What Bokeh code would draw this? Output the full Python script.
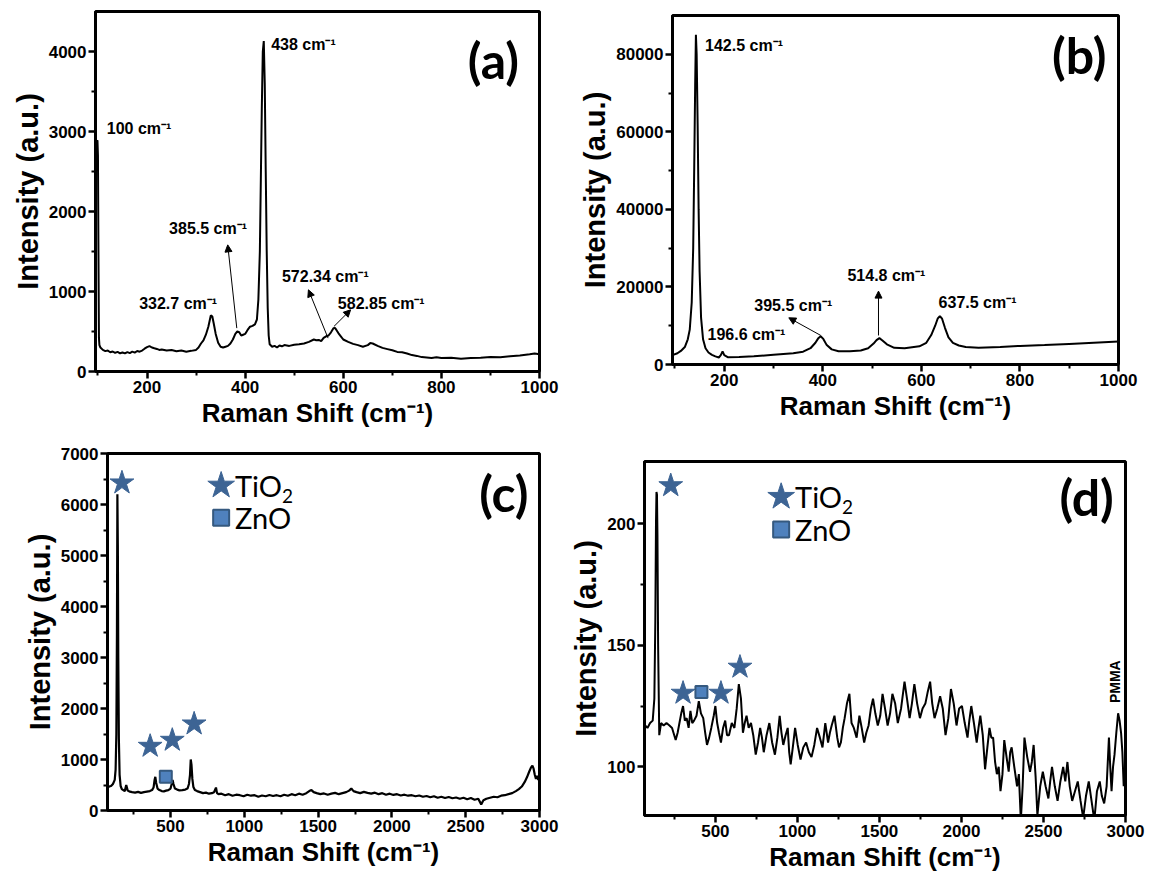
from math import pi
from bokeh.plotting import figure
from bokeh.models import Range1d, FixedTicker, Label, Arrow, NormalHead
from bokeh.layouts import row, column
from bokeh.embed import file_html
from bokeh.resources import INLINE

# ---------------- data: panel (a) ----------------
xa = [
    98, 99, 100, 101, 102, 103, 105, 110, 115, 120,
    125, 130, 135, 140, 145, 150, 155, 160, 165, 170,
    175, 180, 185, 190, 195, 200, 205, 210, 215, 220,
    225, 230, 240, 250, 260, 270, 280, 290, 300, 305,
    310, 315, 320, 325, 330, 333, 336, 340, 345, 350,
    355, 360, 365, 370, 375, 380, 384, 388, 392, 396,
    400, 405, 410, 415, 420, 424, 427, 430, 432, 434,
    436, 438, 440, 442, 444, 446, 448, 450, 455, 460,
    465, 470, 475, 480, 490, 500, 510, 520, 530, 540,
    545, 550, 555, 560, 565, 570, 575, 580, 583, 586,
    590, 595, 600, 610, 620, 630, 640, 650, 655, 660,
    670, 680, 690, 700, 710, 720, 730, 740, 750, 760,
    770, 780, 790, 800, 820, 840, 860, 880, 900, 920,
    940, 960, 980, 990, 1000]
ya = [
    2880, 2890, 2700, 1500, 420, 330, 300, 270, 255, 262,
    240, 250, 232, 245, 228, 238, 226, 242, 230, 248,
    236, 256, 248, 262, 285, 305, 318, 300, 290, 282,
    270, 276, 262, 268, 252, 262, 248, 258, 270, 300,
    350, 390, 460, 560, 700, 690, 600, 470, 360, 310,
    300, 310, 320, 350, 400, 470, 500, 490, 450, 460,
    470, 520, 560, 570, 590, 650, 900, 1500, 2400, 3300,
    4000, 4130, 3600, 2500, 1500, 800, 450, 340, 310, 320,
    300, 325, 315, 330, 320, 335, 340, 350, 370, 400,
    390, 395, 380, 420, 440, 450, 490, 540, 545, 520,
    480, 440, 400, 370, 345, 330, 310, 330, 355, 350,
    320, 295, 280, 265, 245, 240, 225, 205, 195, 180,
    175, 170, 178, 168, 172, 160, 168, 172, 180, 178,
    190, 200, 215, 225, 215]

ann_a_text = ["100 cm\u207b\u00b9", "438 cm\u207b\u00b9", "385.5 cm\u207b\u00b9",
              "332.7 cm\u207b\u00b9", "572.34 cm\u207b\u00b9", "582.85 cm\u207b\u00b9"]
ann_a_x = [118, 453, 245, 184, 475, 589]
ann_a_y = [3042, 4083, 1792, 854, 1187, 854]
arr_a_x0 = [383, 569, 581]
arr_a_y0 = [542, 417, 563]
arr_a_x1 = [364.5, 529, 615]
arr_a_y1 = [1583, 1021, 771]

# ---------------- data: panel (b) ----------------
xb = [
    95, 105, 112, 120, 126, 130, 134, 137, 139, 141,
    142.5, 144, 146, 148, 150, 153, 157, 162, 168, 175,
    182, 189, 193, 196.6, 200, 207, 230, 260, 300, 340,
    360, 375, 385, 391, 395.5, 401, 408, 418, 432, 455,
    477, 492, 503, 509, 514.8, 521, 530, 545, 566, 596,
    610, 620, 628, 633, 637.5, 642, 648, 655, 664, 676,
    690, 716, 760, 800, 850, 900, 950, 1000]
yb = [
    2400, 2900, 3500, 4500, 6500, 9000, 16000, 30000, 50000, 72000,
    85000, 80000, 62000, 40000, 24000, 12000, 6500, 4200, 3100, 2500,
    2100, 1800, 2400, 3400, 2400, 1900, 1950, 2100, 2500, 2900,
    3300, 4200, 5600, 6800, 7300, 6600, 5000, 3900, 3400, 3400,
    3600, 4200, 5400, 6300, 6800, 6200, 5200, 4300, 4200, 4700,
    5600, 7600, 10000, 11800, 12500, 11800, 9400, 7000, 5600, 4900,
    4500, 4300, 4500, 4800, 5000, 5300, 5600, 5900]

ann_b_text = ["142.5 cm\u207b\u00b9", "196.6 cm\u207b\u00b9", "395.5 cm\u207b\u00b9",
              "514.8 cm\u207b\u00b9", "637.5 cm\u207b\u00b9"]
ann_b_x = [161, 166, 261, 450, 635]
ann_b_y = [82323, 7742, 15312, 23054, 15914]
arr_b_x0 = [396, 513]
arr_b_y0 = [7484, 7484]
arr_b_x1 = [331, 513]
arr_b_y1 = [12043, 18925]

# ---------------- data: panel (c) ----------------
xc = [
    73, 85, 97, 110, 122, 128, 133, 137, 140, 143,
    146, 150, 155, 162, 170, 180, 190, 200, 210, 225,
    240, 260, 280, 300, 320, 340, 360, 375, 385, 392,
    397, 403, 412, 425, 440, 455, 470, 485, 500, 508,
    514, 520, 530, 545, 560, 580, 600, 615, 625, 632,
    637, 642, 648, 655, 665, 680, 700, 720, 740, 760,
    780, 795, 808, 815, 825, 845, 870, 895, 920, 945,
    970, 995, 1020, 1045, 1070, 1095, 1120, 1145, 1170, 1195,
    1220, 1245, 1270, 1295, 1320, 1345, 1370, 1395, 1420, 1440,
    1455, 1470, 1490, 1515, 1540, 1565, 1590, 1615, 1640, 1665,
    1690, 1710, 1725, 1740, 1760, 1785, 1810, 1835, 1860, 1885,
    1910, 1935, 1960, 1985, 2010, 2035, 2060, 2085, 2110, 2135,
    2160, 2185, 2210, 2235, 2260, 2285, 2310, 2335, 2360, 2385,
    2410, 2435, 2460, 2485, 2510, 2535, 2560, 2585, 2605, 2620,
    2640, 2665, 2690, 2715, 2740, 2765, 2790, 2815, 2840, 2860,
    2880, 2900, 2915, 2930, 2942, 2952, 2960, 2968, 2976, 2984,
    2992, 3000]
yc = [
    450, 470, 480, 520, 600, 800, 1500, 3500, 6200, 5200,
    3000, 1400, 700, 480, 420, 400, 380, 500, 390, 370,
    360, 350, 365, 345, 360, 370, 380, 400, 450, 600,
    660, 540, 430, 400, 380, 375, 390, 400, 430, 520,
    600, 520, 430, 410, 395, 400, 410, 430, 520, 700,
    1000, 900, 620, 460, 400, 380, 360, 340, 350, 330,
    340, 360, 450, 340, 320, 330, 300, 320, 290, 310,
    300, 280, 310, 290, 300, 270, 295, 280, 305, 285,
    300, 280, 310, 290, 320, 300, 330, 310, 340, 380,
    400, 360, 340, 320, 335, 310, 330, 345, 320, 340,
    360, 390, 430, 380, 360, 340, 365, 345, 330, 350,
    320, 340, 310, 330, 305, 320, 295, 310, 290, 300,
    280, 295, 270, 285, 260, 280, 250, 270, 245, 265,
    240, 255, 230, 250, 220, 245, 210, 230, 120, 200,
    230, 250, 270, 260, 290, 300, 320, 340, 380, 420,
    470, 560, 650, 760, 840, 880, 820, 700, 620, 680,
    600, 700]

star_c_x = [171, 362, 512, 660]
star_c_y = [6425, 1261, 1379, 1699]
zno_c_x = [468]
zno_c_y = [660]

# ---------------- data: panel (d) ----------------
xd = [
    72, 86, 102, 118, 128, 134, 138, 141, 144, 147,
    151, 158, 169, 185, 202, 220, 236, 258, 270, 281,
    292, 303, 314, 325, 337, 348, 359, 370, 385, 399,
    412, 426, 438, 449, 462, 475, 490, 500, 511, 522,
    534, 547, 560, 571, 583, 600, 616, 630, 643, 656,
    668, 679, 690, 703, 717, 731, 746, 760, 773, 784,
    795, 812, 829, 846, 863, 878, 892, 903, 914, 928,
    941, 950, 959, 972, 986, 1002, 1019, 1036, 1053, 1070,
    1086, 1103, 1120, 1137, 1153, 1170, 1187, 1198, 1209, 1226,
    1243, 1254, 1265, 1277, 1288, 1302, 1317, 1330, 1344, 1361,
    1378, 1392, 1407, 1420, 1434, 1448, 1461, 1475, 1490, 1505,
    1519, 1534, 1550, 1565, 1579, 1596, 1612, 1632, 1653, 1668,
    1684, 1698, 1713, 1730, 1747, 1763, 1780, 1795, 1809, 1822,
    1836, 1853, 1870, 1886, 1903, 1920, 1936, 1953, 1970, 1986,
    2003, 2020, 2037, 2048, 2060, 2076, 2093, 2104, 2115, 2130,
    2144, 2158, 2171, 2182, 2193, 2205, 2216, 2227, 2238, 2250,
    2261, 2275, 2288, 2297, 2306, 2322, 2339, 2350, 2362, 2373,
    2384, 2401, 2418, 2429, 2440, 2452, 2463, 2480, 2496, 2513,
    2530, 2541, 2552, 2569, 2586, 2603, 2620, 2633, 2646, 2660,
    2675, 2692, 2709, 2726, 2742, 2759, 2776, 2793, 2810, 2826,
    2843, 2856, 2870, 2885, 2899, 2907, 2915, 2924, 2933, 2944,
    2955, 2964, 2973, 2981, 2989, 2995, 3000]
yd = [
    117, 116, 118, 119, 128, 160, 200, 213, 212, 195,
    150, 113, 118, 117, 118, 117, 116, 111, 114, 118,
    122, 125, 119, 120, 116, 123, 118, 119, 121, 127,
    122, 120, 114, 109, 112, 116, 121, 125, 118, 114,
    110, 116, 119, 113, 113, 118, 116, 124, 134, 128,
    114, 118, 121, 116, 118, 113, 105, 110, 116, 112,
    106, 113, 118, 110, 105, 112, 121, 114, 109, 113,
    116, 106, 101, 108, 116, 109, 103, 108, 110, 106,
    104, 109, 116, 112, 108, 118, 110, 114, 117, 121,
    112, 108, 110, 116, 120, 126, 130, 118, 116, 112,
    121, 116, 110, 114, 117, 124, 128, 122, 117, 121,
    130, 124, 117, 122, 130, 126, 118, 124, 135, 128,
    120, 126, 134, 126, 120, 124, 126, 131, 135, 126,
    120, 124, 129, 124, 113, 120, 132, 126, 117, 124,
    125, 118, 112, 119, 125, 118, 110, 116, 121, 113,
    99, 108, 116, 112, 112, 102, 97, 100, 90, 97,
    111, 104, 98, 106, 108, 100, 92, 97, 78, 92,
    112, 104, 98, 102, 109, 96, 80, 92, 98, 92,
    87, 94, 100, 92, 86, 94, 100, 94, 102, 92,
    86, 90, 94, 86, 79, 88, 94, 86, 78, 90,
    94, 88, 85, 92, 112, 100, 90, 100, 105, 114,
    122, 119, 114, 106, 92, 99, 97]

star_d_x = [228, 303, 534, 650]
star_d_y = [215.6, 130.3, 130.3, 141]
zno_d_x = [415]
zno_d_y = [130.8]

# ---------------- style ----------------
STAR = "#3d6494"
SQ_FILL = "#4f81bd"
SQ_LINE = "#35597f"
XLABEL = "Raman Shift (cm\u207b\u00b9)"
YLABEL = "Intensity (a.u.)"


def panel(w, h, bl, br, bt, bb, xr, yr, xmaj, xmin, ymaj, ymin):
    p = figure(width=w, height=h, x_range=Range1d(*xr), y_range=Range1d(*yr),
               output_backend="svg", toolbar_location=None,
               min_border_left=bl, min_border_right=br,
               min_border_top=bt, min_border_bottom=bb,
               background_fill_color="white", border_fill_color="white")
    p.xgrid.visible = False
    p.ygrid.visible = False
    p.outline_line_color = "black"
    p.outline_line_width = 3
    p.outline_line_alpha = 1
    p.xaxis.ticker = FixedTicker(ticks=xmaj, minor_ticks=xmin)
    p.yaxis.ticker = FixedTicker(ticks=ymaj, minor_ticks=ymin)
    for ax in (p.xaxis[0], p.yaxis[0]):
        ax.axis_line_width = 3
        ax.axis_line_color = "black"
        ax.major_tick_line_width = 2.5
        ax.minor_tick_line_width = 2
        ax.major_tick_out = 7
        ax.major_tick_in = 0
        ax.minor_tick_out = 4
        ax.minor_tick_in = 0
        ax.major_label_text_font = "Liberation Sans"
        ax.major_label_text_font_style = "bold"
        ax.major_label_text_font_size = "17px"
        ax.major_label_text_color = "black"
        ax.major_label_standoff = 2
        ax.axis_label_text_font = "Liberation Sans"
        ax.axis_label_text_font_style = "bold"
        ax.axis_label_text_color = "black"
        ax.axis_label_standoff = 2
    p.xaxis.axis_label_text_font_size = "26px"
    p.yaxis.axis_label_text_font_size = "29px"
    p.xaxis.axis_label = XLABEL
    p.yaxis.axis_label = YLABEL
    return p


def ann(p, xs, ys, texts, size="16px"):
    for x, y, t in zip(xs, ys, texts):
        p.add_layout(Label(x=x, y=y, text=t, text_font="Liberation Sans",
                           text_font_style="bold", text_font_size=size,
                           text_color="black", text_baseline="middle",
                           text_align="left"))


def arrows(p, x0, y0, x1, y1):
    for a, b, c, d in zip(x0, y0, x1, y1):
        p.add_layout(Arrow(end=NormalHead(size=7, fill_color="black", line_color="black",
                                          line_width=1),
                           x_start=a, y_start=b, x_end=c, y_end=d,
                           line_color="black", line_width=1))


def tag(p, x, y, t):
    p.add_layout(Label(x=x, y=y, text=t, text_font="Lato", text_font_style="bold",
                       text_font_size="50px", text_color="black",
                       text_baseline="middle", text_align="left"))


def legend(p, sx, sy_star, sy_sq, tx):
    p.scatter([sx], [sy_star], marker="star", size=28, fill_color=STAR, line_color=STAR)
    p.scatter([sx], [sy_sq], marker="square", size=16, fill_color=SQ_FILL,
              line_color=SQ_LINE, line_width=2)
    p.add_layout(Label(x=tx, y=sy_star, text="TiO", text_font="Lato", text_font_size="29px",
                       text_color="black", text_baseline="middle", text_align="left"))
    p.add_layout(Label(x=tx, y=sy_star, text="2", text_font="Lato", text_font_size="19px",
                       text_color="black", text_baseline="middle", text_align="left",
                       x_offset=47, y_offset=-10))
    p.add_layout(Label(x=tx, y=sy_sq, text="ZnO", text_font="Lato", text_font_size="29px",
                       text_color="black", text_baseline="middle", text_align="left"))


# ---------------- panel (a) ----------------
pa = panel(575, 440, 95, 36, 11, 69, (95, 1000), (0, 4500),
           [200, 400, 600, 800, 1000], [100, 300, 500, 700, 900],
           [0, 1000, 2000, 3000, 4000], [500, 1500, 2500, 3500])
pa.line(xa, ya, line_color="black", line_width=2)
ann(pa, ann_a_x, ann_a_y, ann_a_text)
arrows(pa, arr_a_x0, arr_a_y0, arr_a_x1, arr_a_y1)
tag(pa, 854, 3896, "(a)")

# ---------------- panel (b) ----------------
pb = panel(570, 440, 97, 27, 15, 76, (95, 1000), (0, 90000),
           [200, 400, 600, 800, 1000], [100, 300, 500, 700, 900],
           [0, 20000, 40000, 60000, 80000], [10000, 30000, 50000, 70000])
pb.line(xb, yb, line_color="black", line_width=2)
ann(pb, ann_b_x, ann_b_y, ann_b_text)
arrows(pb, arr_b_x0, arr_b_y0, arr_b_x1, arr_b_y1)
tag(pb, 865, 79828, "(b)")

# ---------------- panel (c) ----------------
pc = panel(567, 434, 107, 28, 13, 64, (73, 3000), (0, 7000),
           [500, 1000, 1500, 2000, 2500, 3000], [250, 750, 1250, 1750, 2250, 2750],
           [0, 1000, 2000, 3000, 4000, 5000, 6000, 7000],
           [500, 1500, 2500, 3500, 4500, 5500, 6500])
pc.line(xc, yc, line_color="black", line_width=2.2)
pc.scatter(star_c_x, star_c_y, marker="star", size=25, fill_color=STAR, line_color=STAR)
pc.scatter(zno_c_x, zno_c_y, marker="square", size=12, fill_color=SQ_FILL,
           line_color=SQ_LINE, line_width=2)
legend(pc, 843, 6372, 5739, 937)
tag(pc, 2592, 6229, "(c)")

# ---------------- panel (d) ----------------
pd_ = panel(578, 434, 77, 20, 21, 58, (68, 3000), (80, 225.5),
            [500, 1000, 1500, 2000, 2500, 3000], [250, 750, 1250, 1750, 2250, 2750],
            [100, 150, 200], [125, 175])
pd_.line(xd, yd, line_color="black", line_width=2)
pd_.scatter(star_d_x, star_d_y, marker="star", size=25, fill_color=STAR, line_color=STAR)
pd_.scatter(zno_d_x, zno_d_y, marker="square", size=12, fill_color=SQ_FILL,
            line_color=SQ_LINE, line_width=2)
legend(pd_, 901, 211, 197.5, 986)
tag(pd_, 2597, 211, "(d)")
pd_.add_layout(Label(x=2933, y=135, text="PMMA", angle=pi / 2, text_font="Liberation Sans",
                     text_font_style="bold", text_font_size="14px", text_color="black",
                     text_align="center", text_baseline="middle"))

layout = column(row(column(pa), column(pb)), row(column(pc), column(pd_)))
open("out.html", "w").write(file_html(layout, INLINE))
